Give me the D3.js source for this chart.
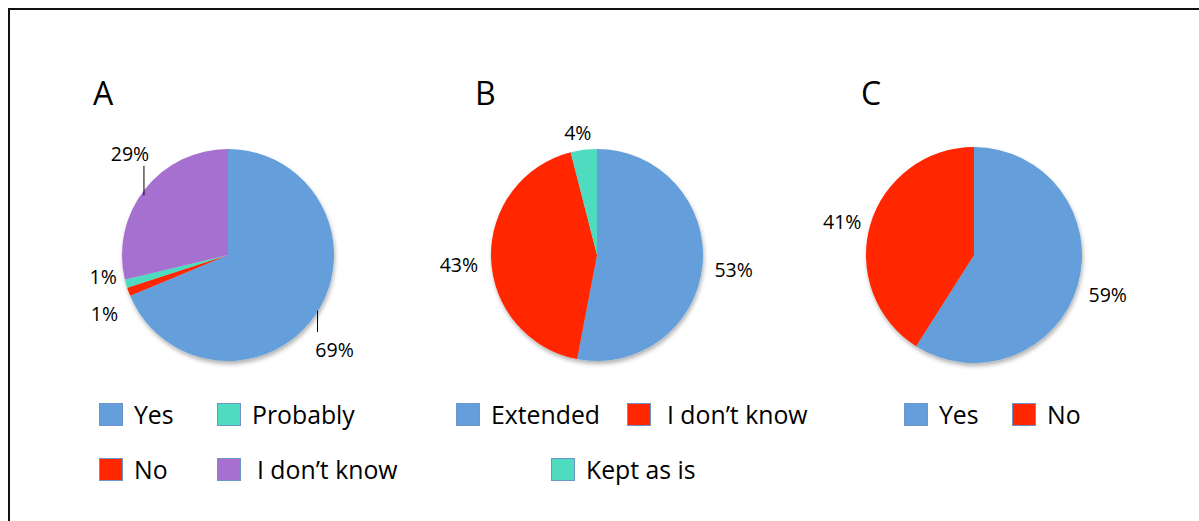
<!DOCTYPE html>
<html>
<head>
<meta charset="utf-8">
<script src="https://cdn.jsdelivr.net/npm/d3@7"></script>
<style>
  html, body { margin: 0; padding: 0; background: #fff; }
  svg { display: block; font-family: "Open Sans", "Liberation Sans", sans-serif; }
</style>
</head>
<body>
<svg id="chart" width="1199" height="521"></svg>
<script>
// --- data ---
const aCategories = ["Yes", "No", "Probably", "I don’t know"];
const aValues = [68.7, 1.3, 1.3, 28.7];
const bCategories = ["Extended", "I don’t know", "Kept as is"];
const bValues = [53, 43, 4];
const cCategories = ["Yes", "No"];
const cValues = [59, 41];

const colors = {
    "Yes": "#659fdb",
    "Extended": "#659fdb",
    "No": "#ff2600",
    "I don’t know": "#a66fd0",
    "Probably": "#4fdbc0",
    "Kept as is": "#4fdbc0"
};
colors.A = { "I don’t know": "#a66fd0" };
colors.B = { "I don’t know": "#ff2600" };

function sliceColor(panel, name) {
    if (colors[panel.id] && colors[panel.id][name]) return colors[panel.id][name];
    return colors[name];
}

// --- layout ---
const panels = [
    {
        id: "A", categories: aCategories, values: aValues,
        cx: 228, cy: 255, r: 106, titleX: 93,
        // label nudges (Excel moved some labels by hand), leader x offset
        nudge: [{dx: -6, dy: 26, leader: -17}, {dx: -2, dy: 16}, {dx: 0, dy: -12}, {dx: 8, dy: -25, leader: 14}],
        legend: [
            {name: "Yes", x: 99, row: 0},
            {name: "Probably", x: 217, row: 0},
            {name: "No", x: 99, row: 1},
            {name: "I don’t know", x: 217, row: 1, indent: 5}
        ]
    },
    {
        id: "B", categories: bCategories, values: bValues,
        cx: 597, cy: 255, r: 106, titleX: 475,
        nudge: [{dx: 2, dy: 3}, {dx: -3, dy: 6}, {dx: -3, dy: 0}],
        legend: [
            {name: "Extended", x: 456, row: 0},
            {name: "I don’t know", x: 627, row: 0, indent: 5},
            {name: "Kept as is", x: 551, row: 1}
        ]
    },
    {
        id: "C", categories: cCategories, values: cValues,
        cx: 974, cy: 255, r: 108, titleX: 861,
        nudge: [{dx: 2, dy: 4}, {dx: 0, dy: 1}],
        legend: [
            {name: "Yes", x: 904, row: 0},
            {name: "No", x: 1012, row: 0}
        ]
    }
];

const legendRowY = [403, 458];
const swatchW = 24, swatchH = 23;
const labelGap = 10;
const labelFont = 19.5;

const svg = d3.select("#chart");

// soft shadow under each pie
const defs = svg.append("defs");
const shadow = defs.append("filter").attr("id", "pieShadow")
    .attr("x", "-20%").attr("y", "-20%").attr("width", "140%").attr("height", "140%");
shadow.append("feDropShadow")
    .attr("dx", 1).attr("dy", 3).attr("stdDeviation", 2)
    .attr("flood-color", "#000").attr("flood-opacity", 0.3);

// outer frame (left and top edges visible)
svg.append("path")
    .attr("d", "M9,521 V9 H1199")
    .attr("fill", "none")
    .attr("stroke", "#111")
    .attr("stroke-width", 2);

const pie = d3.pie().sort(null).value(d => d.value);
const fmt = v => Math.round(v) + "%";

panels.forEach(panel => {
    const data = panel.categories.map((name, i) => ({name: name, value: panel.values[i]}));
    const arcs = pie(data);
    const arc = d3.arc().innerRadius(0).outerRadius(panel.r);

    const g = svg.append("g").attr("transform", `translate(${panel.cx},${panel.cy})`);

    // title letter
    svg.append("text")
        .attr("x", panel.titleX)
        .attr("y", 105)
        .attr("font-size", 32)
        .attr("fill", "#000")
        .text(panel.id);

    g.append("g").attr("filter", "url(#pieShadow)")
        .selectAll("path")
        .data(arcs)
        .enter()
        .append("path")
        .attr("d", arc)
        .attr("fill", d => sliceColor(panel, d.data.name));

    // data labels outside the pie
    arcs.forEach((d, i) => {
        const mid = (d.startAngle + d.endAngle) / 2;
        const sx = Math.sin(mid), sy = -Math.cos(mid);
        const px = (panel.r + labelGap) * sx;
        const py = (panel.r + labelGap) * sy;
        const txt = fmt(d.data.value);

        const t = g.append("text")
            .attr("font-size", labelFont)
            .attr("fill", "#000")
            .attr("text-anchor", "middle")
            .attr("dominant-baseline", "central")
            .text(txt);
        const w = t.node().getComputedTextLength();
        const h = 15;
        const n = panel.nudge[i] || {dx: 0, dy: 0};
        const lx = px + sx * w / 2 + n.dx;
        const ly = py + sy * h / 2 + n.dy;
        t.attr("x", lx).attr("y", ly);

        if (n.leader !== undefined) {
            const x = lx + n.leader;
            const edge = Math.sqrt(Math.max(0, panel.r * panel.r - x * x));
            const yEdge = ly > 0 ? edge - 1 : -edge + 5;
            const yLabel = ly > 0 ? ly - h / 2 - 10 : ly + h / 2 + 5;
            g.append("line")
                .attr("x1", x).attr("x2", x)
                .attr("y1", yEdge).attr("y2", yLabel)
                .attr("stroke", "#000")
                .attr("stroke-width", 1);
        }
    });

    // legend
    const leg = svg.append("g").selectAll("g")
        .data(panel.legend)
        .enter()
        .append("g")
        .attr("transform", d => `translate(${d.x},${legendRowY[d.row]})`);

    leg.append("rect")
        .attr("x", 0.5).attr("y", 0.5)
        .attr("width", swatchW - 1).attr("height", swatchH - 1)
        .attr("fill", d => sliceColor(panel, d.name))
        .attr("stroke", "#6f95c8")
        .attr("stroke-width", 1);

    leg.append("text")
        .attr("x", d => 35 + (d.indent || 0))
        .attr("y", 20.5)
        .attr("font-size", 24.8)
        .attr("fill", "#000")
        .text(d => d.name);
});
</script>
</body>
</html>
